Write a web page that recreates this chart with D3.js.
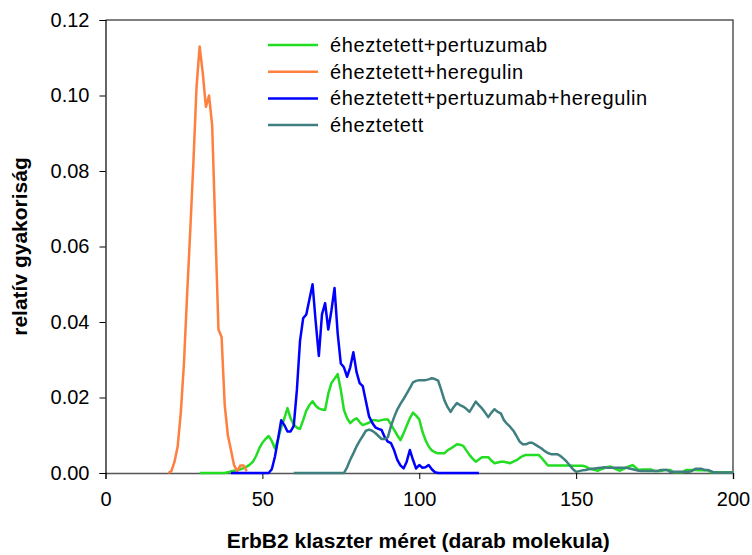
<!DOCTYPE html>
<html>
<head>
<meta charset="utf-8">
<script src="https://cdn.jsdelivr.net/npm/d3@7"></script>
<style>
  body { margin: 0; background: #fff; }
  text { font-family: "Liberation Sans", Arial, sans-serif; }
</style>
</head>
<body>
<svg width="752" height="555"></svg>
<script>
// cluster size (molecules) and relative frequency
var orangeX = [20,21,22,23,24,25,26,27,28,29,30,31,32,33,34,36,37,38,39,40,41,42,43,44,45];
var orangeY = [0,0.0005,0.003,0.007,0.016,0.029,0.047,0.064,0.082,0.102,0.113,0.106,0.097,0.100,0.092,
               0.038,0.036,0.018,0.010,0.006,0.002,0.0005,0.002,0.002,0.0005];

var greenX = d3.range(30, 201);
var greenY = [0,0,0,0,0,0,0,0,0,0.0002,0.0004,0.0006,0.0008,0.001,0.0013,0.0017,0.0022,0.003,0.0045,0.0065,
  0.008,0.009,0.0098,0.0085,0.0065,0.009,0.012,0.0145,0.0172,0.0145,
  0.0128,0.012,0.0117,0.014,0.0165,0.018,0.019,0.0178,0.0171,0.0168,
  0.0167,0.021,0.0238,0.025,0.0262,0.022,0.0167,0.0145,0.0132,0.014,
  0.0145,0.0135,0.0127,0.013,0.0133,0.014,0.014,0.0138,0.014,0.0142,
  0.0142,0.0128,0.0114,0.01,0.0087,0.0105,0.0125,0.0145,0.016,0.0152,
  0.0142,0.011,0.0087,0.007,0.006,0.0055,0.0052,0.0052,0.0052,0.006,
  0.0065,0.007,0.0076,0.0075,0.0072,0.006,0.0048,0.0038,0.003,0.0036,
  0.0042,0.0042,0.0042,0.0033,0.0026,0.0028,0.003,0.003,0.0028,0.0026,
  0.003,0.0034,0.004,0.0045,0.0048,0.0048,0.0048,0.0048,0.0048,0.004,
  0.003,0.002,0.002,0.002,0.002,0.002,0.002,0.002,0.002,0.0019,
  0.0019,0.0019,0.0019,0.0017,0.0013,0.001,0.0008,0.0006,0.001,0.0013,
  0.0016,0.0017,0.0013,0.0009,0.0006,0.001,0.0014,0.0018,0.0021,0.0014,
  0.0008,0.0009,0.0009,0.0009,0.0009,0.0005,0.0005,0.0005,0.0008,0.0008,
  0.0008,0.0002,0.0002,0.0002,0.0002,0.0008,0.0008,0.0008,0.0008,0.0007,
  0.0007,0.0007,0.0007,0.0002,0.0002,0.0002,0.0002,0.0002,0.0002,0.0002,0.0002];

var blueX = d3.range(40, 120);
var blueY = [0,0,0,0,0,0,0,0,0,0,0,0,0,0.001,0.0043,0.009,0.014,0.0127,0.011,0.011,
  0.0125,0.022,0.035,0.041,0.042,0.046,0.050,0.040,0.031,0.042,
  0.045,0.038,0.043,0.049,0.037,0.029,0.028,0.0255,0.028,0.032,
  0.0268,0.0238,0.023,0.019,0.015,0.0133,0.0121,0.0117,0.0114,0.0095,
  0.0083,0.0079,0.006,0.0035,0.002,0.0012,0.003,0.0061,0.0035,0.0012,
  0.0021,0.0014,0.0015,0.0021,0.001,0.0002,0,0,0,0,
  0,0,0,0,0,0,0,0,0,0];

var tealX = d3.range(60, 201);
var tealY = [0,0,0,0,0,0,0,0,0,0,0,0,0,0,0,0,0,0.0015,0.0035,0.0052,
  0.007,0.0085,0.0098,0.0112,0.0115,0.0112,0.0106,0.0098,0.009,0.009,
  0.0095,0.0125,0.0148,0.0168,0.0183,0.0196,0.021,0.0225,0.024,0.0244,
  0.0246,0.0246,0.0246,0.0248,0.0251,0.0249,0.0245,0.022,0.0193,0.0175,
  0.0162,0.0175,0.0185,0.018,0.0176,0.017,0.0162,0.0175,0.0189,0.018,
  0.0171,0.016,0.0148,0.016,0.0169,0.0162,0.0158,0.014,0.013,0.0122,
  0.0112,0.0098,0.0083,0.0076,0.0076,0.008,0.008,0.0075,0.007,0.0065,
  0.0058,0.0053,0.005,0.005,0.005,0.0045,0.0038,0.003,0.002,0.001,
  0.0003,0.0005,0.0007,0.0008,0.001,0.0011,0.0012,0.0013,0.0014,0.0015,
  0.0014,0.0014,0.0014,0.0014,0.0014,0.0014,0.0014,0.0012,0.001,0.0008,
  0.0006,0.0005,0.0005,0.0005,0.0005,0.0005,0.0005,0.0008,0.0008,0.0008,
  0.0003,0.0003,0.0003,0.0003,0.0003,0.0003,0.0003,0.0006,0.0011,0.0011,
  0.0011,0.0008,0.0008,0.0005,0.0001,0.0001,0.0001,0.0001,0.0001,0.0001,0.0001];

var seriesNames = ["éheztetett+pertuzumab", "éheztetett+heregulin", "éheztetett+pertuzumab+heregulin", "éheztetett"];
var seriesColors = ["#22dd22", "#ff7f3f", "#0000ff", "#3f7f7f"];
var xTicks = [0, 50, 100, 150, 200];
var yTicks = [0, 0.02, 0.04, 0.06, 0.08, 0.10, 0.12];

var svg = d3.select("svg"),
    margin = {top: 20, right: 19, bottom: 82, left: 105.5},
    width = +svg.attr("width") - margin.left - margin.right,
    height = +svg.attr("height") - margin.top - margin.bottom;

var xScale = d3.scaleLinear().domain([0, 200]).range([0, width]),
    yScale = d3.scaleLinear().domain([0, 0.12]).range([height, 0]);

var g = svg.append("g")
    .attr("transform", "translate(" + margin.left + "," + margin.top + ")");

// frame (top and right)
g.append("path")
    .attr("d", "M0,0H" + width + "V" + height)
    .attr("fill", "none")
    .attr("stroke", "#555")
    .attr("stroke-width", 1.5);

var xAxis = g.append("g")
    .attr("transform", "translate(0," + height + ")")
    .call(d3.axisBottom(xScale).tickValues(xTicks).tickSize(6).tickPadding(13));
xAxis.select(".domain").attr("stroke", "#555").attr("stroke-width", 1.5);
xAxis.selectAll(".tick line").attr("stroke", "#000");
xAxis.selectAll("text").attr("font-size", 20).attr("font-family", "Liberation Sans, Arial, sans-serif").attr("fill", "#000");

var yAxis = g.append("g")
    .call(d3.axisLeft(yScale).tickValues(yTicks).tickFormat(d3.format(".2f")).tickSize(6).tickPadding(10));
yAxis.select(".domain").attr("stroke", "#000").attr("stroke-width", 1.2);
yAxis.selectAll("text").attr("font-size", 20).attr("font-family", "Liberation Sans, Arial, sans-serif").attr("fill", "#000");

var line = d3.line()
    .x(function(d) { return xScale(d[0]); })
    .y(function(d) { return yScale(d[1]); });

var series = [
    {x: greenX, y: greenY, i: 0},
    {x: orangeX, y: orangeY, i: 1},
    {x: blueX, y: blueY, i: 2},
    {x: tealX, y: tealY, i: 3}
];

series.forEach(function(s) {
    g.append("path")
        .datum(d3.zip(s.x, s.y))
        .attr("fill", "none")
        .attr("stroke", seriesColors[s.i])
        .attr("stroke-width", 2.5)
        .attr("stroke-linejoin", "round")
        .attr("d", line);
});

// legend
var legend = svg.append("g").attr("transform", "translate(268,45)");
seriesNames.forEach(function(name, i) {
    var row = legend.append("g").attr("transform", "translate(0," + (i * 26.7) + ")");
    row.append("line")
        .attr("x1", 0).attr("x2", 50)
        .attr("stroke", seriesColors[i])
        .attr("stroke-width", 2.5);
    row.append("text")
        .attr("x", 62).attr("y", 7)
        .attr("font-size", 20)
        .attr("letter-spacing", 0.6)
        .text(name);
});

// axis titles
svg.append("text")
    .attr("x", margin.left + width / 2 - 1)
    .attr("y", 548)
    .attr("text-anchor", "middle")
    .attr("font-size", 21)
    .attr("font-weight", "bold")
    .text("ErbB2 klaszter méret (darab molekula)");

svg.append("text")
    .attr("transform", "translate(27," + (margin.top + height / 2) + ") rotate(-90)")
    .attr("text-anchor", "middle")
    .attr("font-size", 21)
    .attr("font-weight", "bold")
    .text("relatív gyakoriság");
</script>
</body>
</html>
